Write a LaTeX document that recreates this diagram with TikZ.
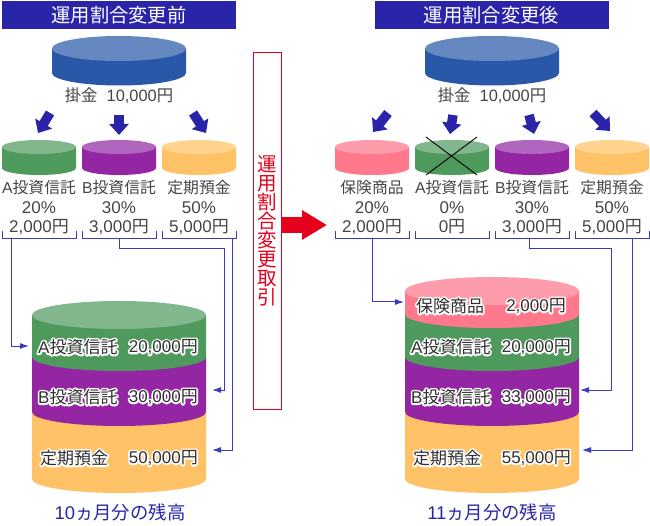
\documentclass[tikz,border=0pt]{standalone}
\usepackage{fontspec}
\setmainfont{Liberation Sans}
\newfontfamily\jp{Noto Sans CJK JP}
\usetikzlibrary{arrows.meta}
\definecolor{navy}{HTML}{2A24A8}
\definecolor{linkblue}{HTML}{3A3AC4}
\definecolor{txt}{HTML}{454545}
\definecolor{redd}{HTML}{E6001E}
\definecolor{mainS}{HTML}{2A58A8}\definecolor{mainT}{HTML}{6688C0}
\definecolor{grS}{HTML}{4E9A5C}\definecolor{grT}{HTML}{82B68C}
\definecolor{puS}{HTML}{9426A4}\definecolor{puT}{HTML}{B066BE}
\definecolor{orS}{HTML}{FFC266}\definecolor{orT}{HTML}{FFD48E}
\definecolor{piS}{HTML}{FF788C}\definecolor{piT}{HTML}{FF9CAC}
\newcommand{\fs}[1]{\fontsize{#1}{#1}\selectfont}
% cylinder: cx, rx, ry, top centre y, bottom centre y, side colour, top colour
\newcommand{\cyl}[7]{%
  \fill[#6] (#1-#2,#4) -- (#1-#2,#5) arc[start angle=180,end angle=360,x radius=#2,y radius=-#3] -- (#1+#2,#4) -- cycle;
  \fill[#7] (#1,#4) ellipse[x radius=#2,y radius=#3];}
% band without its own top face
\newcommand{\band}[6]{%
  \fill[#6] (#1-#2,#4) -- (#1-#2,#5) arc[start angle=180,end angle=360,x radius=#2,y radius=-#3] -- (#1+#2,#4) -- cycle;}
% text with a white outline drawn under it: name, x, y, anchor, text
\newcommand{\halo}[5]{%
  \node[bigt,anchor=#4] (#1) at (#2,#3) {\rlap{\special{pdf:code q 1 Tr 3.6 w 1 j 1 1 1 RG}#5\special{pdf:code Q}}#5};}
% three-line label under a small cylinder and its bracket
\newcommand{\fund}[7]{%
  \cyl{#2}{37}{7}{147}{168}{#6}{#7}
  \node[smt] (#1n) at (#2,188) {#3};
  \node[numt] (#1p) at (#2,208) {#4};
  \node[numt] (#1y) at (#2,227) {#5};
  \draw[brk] (#2-37,231) |- (#2+37,239) -- (#2+37,231);}
\begin{document}
\begin{tikzpicture}[x=1pt,y=-1pt,
  head/.style={fill=navy,text=white,inner sep=0pt,minimum width=234pt,minimum height=28pt,font=\jp\fs{19.3}},
  smt/.style={text=txt,inner sep=0pt,font=\fs{15.8}},
  numt/.style={text=txt,inner sep=0pt,font=\fs{17}},
  mt/.style={text=txt,inner sep=0pt,font=\fs{16.4}},
  bigt/.style={text=txt!70!black,inner sep=0pt,font=\fs{17}},
  capt/.style={text=navy,inner sep=0pt,font=\fs{18.4}},
  brk/.style={draw=linkblue,line width=1pt},
  link/.style={draw=linkblue,line width=1pt,-{Latex[length=9pt,width=6pt]}},
  bigarrow/.style={draw=navy,line width=9.5pt,-{Triangle[length=11pt,width=19pt]}}]
\useasboundingbox (0,0) rectangle (650,526);

% headers
\node[head] (hl) at (119,15) {運用割合変更前};
\node[head] (hr) at (491.5,15) {運用割合変更後};

% main cylinders
\cyl{119}{67}{12.5}{48.5}{73}{mainS}{mainT}
\cyl{492}{67}{12.5}{48.5}{73}{mainS}{mainT}
\node[mt] (ml) at (119,96) {{\jp 掛金}\ \ 10,000{\jp 円}};
\node[mt] (mr) at (492,96) {{\jp 掛金}\ \ 10,000{\jp 円}};

% items, left
\fund{la}{39}{A{\jp 投資信託}}{20\%}{2,000{\jp 円}}{grS}{grT}
\fund{lb}{119}{B{\jp 投資信託}}{30\%}{3,000{\jp 円}}{puS}{puT}
\fund{lc}{199}{{\jp 定期預金}}{50\%}{5,000{\jp 円}}{orS}{orT}
% items, right
\fund{rp}{372}{{\jp 保険商品}}{20\%}{2,000{\jp 円}}{piS}{piT}
\fund{ra}{452}{A{\jp 投資信託}}{0\%}{0{\jp 円}}{grS}{grT}
\fund{rb}{532}{B{\jp 投資信託}}{30\%}{3,000{\jp 円}}{puS}{puT}
\fund{rc}{612}{{\jp 定期預金}}{50\%}{5,000{\jp 円}}{orS}{orT}

% cross
\coordinate (x1) at (426,137);\coordinate (x2) at (477,175);
\coordinate (x3) at (477,137);\coordinate (x4) at (426,175);
\draw[black,line width=0.9pt] (x1) -- (x2) (x3) -- (x4);

% block arrows
\coordinate (t1) at (50,113);\coordinate (h1) at (38,133);
\coordinate (t2) at (119,115);\coordinate (h2) at (119,135);
\coordinate (t3) at (193,113);\coordinate (h3) at (206,133);
\coordinate (t4) at (388,113);\coordinate (h4) at (373,132);
\coordinate (t5) at (453,115);\coordinate (h5) at (450,134);
\coordinate (t6) at (529,115);\coordinate (h6) at (534,134);
\coordinate (t7) at (593,113);\coordinate (h7) at (610,131);
\foreach \i in {1,...,7} \draw[bigarrow] (t\i) -- (h\i);

% big stack, left
\band{119}{87}{14}{412}{479}{orS}
\band{119}{87}{14}{357}{412}{puS}
\cyl{119}{87}{14}{315}{357}{grS}{grT}
% big stack, right
\band{492}{87}{14}{412}{479}{orS}
\band{492}{87}{14}{357}{412}{puS}
\band{492}{87}{14}{314}{357}{grS}
\cyl{492}{87}{14}{291}{314}{piS}{piT}

% stack labels
\halo{sa}{38}{347}{west}{A{\jp 投資信託}}
\halo{sav}{198}{347}{east}{20,000{\jp 円}}
\halo{sb}{38}{397}{west}{B{\jp 投資信託}}
\halo{sbv}{198}{397}{east}{30,000{\jp 円}}
\halo{sc}{40}{458}{west}{{\jp 定期預金}}
\halo{scv}{198}{458}{east}{50,000{\jp 円}}
\halo{tp}{416}{306}{west}{{\jp 保険商品}}
\halo{tpv}{566}{306}{east}{2,000{\jp 円}}
\halo{ta}{411}{347}{west}{A{\jp 投資信託}}
\halo{tav}{571}{347}{east}{20,000{\jp 円}}
\halo{tb}{411}{397}{west}{B{\jp 投資信託}}
\halo{tbv}{571}{397}{east}{33,000{\jp 円}}
\halo{tc}{413}{458}{west}{{\jp 定期預金}}
\halo{tcv}{571}{458}{east}{55,000{\jp 円}}

% captions
\node[capt] (cl) at (120,512.5) {10{\jp ヵ月分の残高}};
\node[capt] (cr) at (492,512.5) {11{\jp ヵ月分の残高}};

% connector end points
\coordinate (a1) at (11,239);\coordinate (a2) at (29,346);
\coordinate (b1) at (119,239);\coordinate (b2) at (212,390);
\coordinate (c1) at (232,239);\coordinate (c2) at (212,450);
\coordinate (d1) at (372,239);\coordinate (d2) at (404,302);
\coordinate (e1) at (529,239);\coordinate (e2) at (580,390);
\coordinate (f1) at (632,239);\coordinate (f2) at (582,450);
\draw[link] (a1) |- (a2);
\draw[link] (b1) -- (119,249) -- (224,249) |- (b2);
\draw[link] (c1) |- (c2);
\draw[link] (d1) |- (d2);
\draw[link] (e1) -- (529,249) -- (611,249) |- (e2);
\draw[link] (f1) |- (f2);

% centre
\node[draw=redd,line width=0.9pt,fill=white,minimum width=28pt,minimum height=357pt,inner sep=0pt] (box) at (267,230.5) {};
\node[text=redd,inner sep=0pt,align=center,font=\jp\fontsize{19.5}{19}\selectfont] (boxt) at (267,230.5)
  {運\\用\\割\\合\\変\\更\\取\\引};
\coordinate (rs) at (box.east |- 0,225);\coordinate (re) at (327,225);
\draw[draw=redd,line width=16pt,-{Triangle[length=25pt,width=28pt]}] (rs) -- (re);
\end{tikzpicture}
\end{document}
